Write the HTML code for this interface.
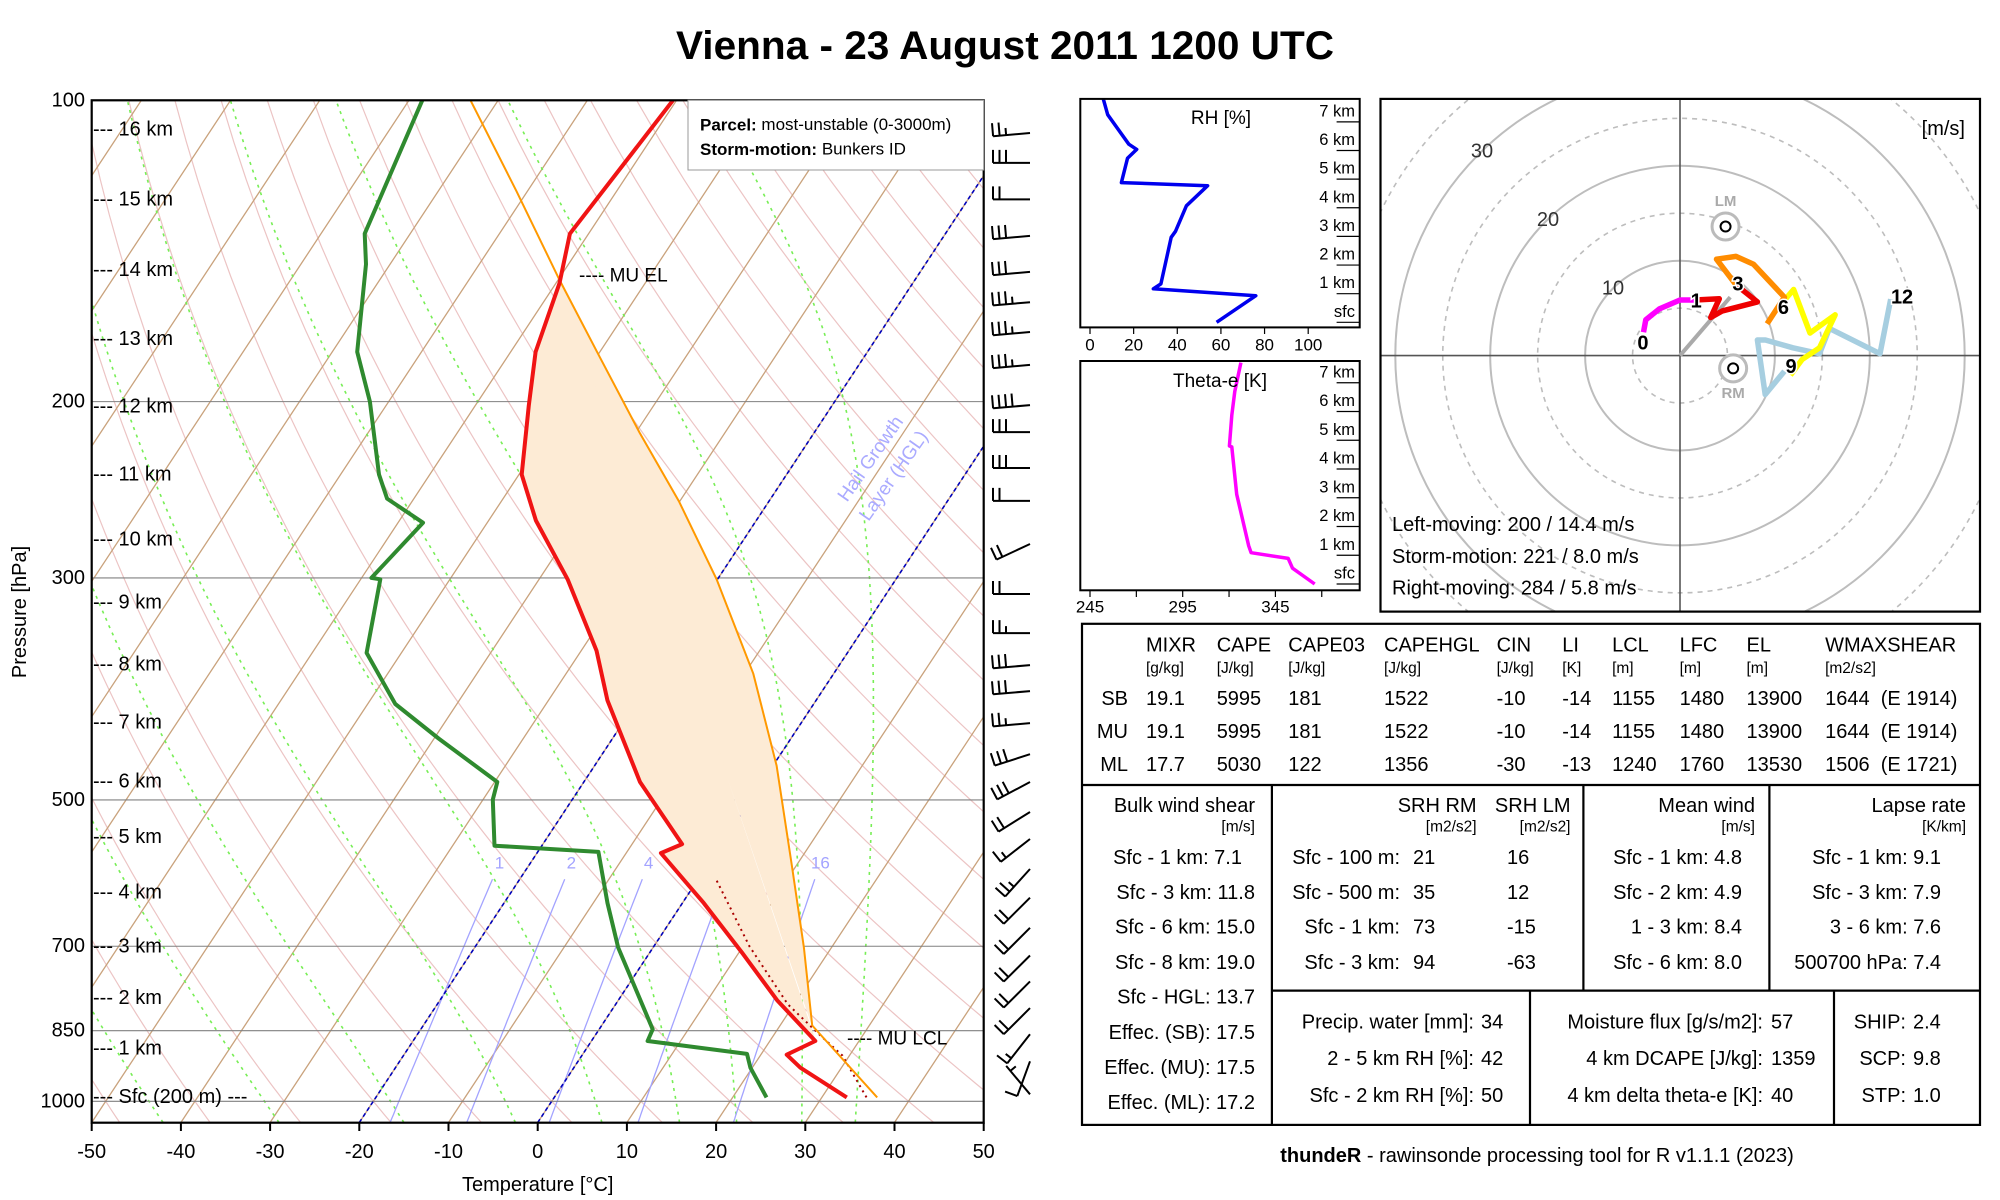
<!DOCTYPE html>
<html><head><meta charset="utf-8"><title>Vienna sounding</title>
<style>
body{margin:0;background:#fff;}
svg{display:block;font-family:"Liberation Sans",Arial,sans-serif;}
.t20{font-size:20px;fill:#000;}
.t17{font-size:17px;fill:#000;}
.t16{font-size:16px;fill:#000;}
</style></head>
<body>
<svg id="c" width="2000" height="1200" viewBox="0 0 2000 1200" xmlns="http://www.w3.org/2000/svg">
<defs>
<clipPath id="skclip"><rect x="91.7" y="100.3" width="892" height="1022.4"/></clipPath>
<clipPath id="hclip"><rect x="1380.5" y="98.9" width="599.5" height="512.7"/></clipPath>
<clipPath id="rhclip"><rect x="1080.3" y="98.9" width="279.4" height="228.5"/></clipPath>
<clipPath id="thclip"><rect x="1080.3" y="361" width="279.4" height="229.3"/></clipPath>
</defs>
<rect x="0" y="0" width="2000" height="1200" fill="#fff"/>
<text x="1005" y="59" text-anchor="middle" font-size="40" font-weight="bold" textLength="658" lengthAdjust="spacingAndGlyphs">Vienna - 23 August 2011 1200 UTC</text>

<g id="skbg" clip-path="url(#skclip)"></g>
<g id="skdata" clip-path="url(#skclip)"></g>
<rect x="91.7" y="100.3" width="892" height="1022.4" fill="none" stroke="#000" stroke-width="2.2"/>
<g id="skaxes"></g>

<g class="t20" dominant-baseline="central">
<text x="93" y="129.3" dominant-baseline="central">--- 16 km</text>
<text x="93" y="199.7" dominant-baseline="central">--- 15 km</text>
<text x="93" y="270.2" dominant-baseline="central">--- 14 km</text>
<text x="93" y="339" dominant-baseline="central">--- 13 km</text>
<text x="93" y="406.4" dominant-baseline="central">--- 12 km</text>
<text x="93" y="474.5" dominant-baseline="central">--- 11 km</text>
<text x="93" y="539.5" dominant-baseline="central">--- 10 km</text>
<text x="93" y="602.3" dominant-baseline="central">--- 9 km</text>
<text x="93" y="664.3" dominant-baseline="central">--- 8 km</text>
<text x="93" y="722.4" dominant-baseline="central">--- 7 km</text>
<text x="93" y="781.4" dominant-baseline="central">--- 6 km</text>
<text x="93" y="837.2" dominant-baseline="central">--- 5 km</text>
<text x="93" y="892.5" dominant-baseline="central">--- 4 km</text>
<text x="93" y="946.5" dominant-baseline="central">--- 3 km</text>
<text x="93" y="998.2" dominant-baseline="central">--- 2 km</text>
<text x="93" y="1048.4" dominant-baseline="central">--- 1 km</text>
<text x="93" y="1097" dominant-baseline="central">--- Sfc (200 m) ---</text>
</g>

<g>
<rect x="688" y="100.3" width="295.7" height="69.7" fill="#fff" stroke="#999" stroke-width="1"/>
<text x="700" y="124.7" font-size="17" dominant-baseline="central"><tspan font-weight="bold">Parcel:</tspan> most-unstable (0-3000m)</text>
<text x="700" y="149.2" font-size="17" dominant-baseline="central"><tspan font-weight="bold">Storm-motion:</tspan> Bunkers ID</text>
</g>
<text x="579" y="276" font-size="19" dominant-baseline="central">---- MU EL</text>
<text x="847" y="1039" font-size="19" dominant-baseline="central">---- MU LCL</text>
<g fill="#aaaaff" font-size="19">
<text x="871" y="459" text-anchor="middle" dominant-baseline="central" transform="rotate(-55 871 459)">Hail Growth</text>
<text x="894" y="476" text-anchor="middle" dominant-baseline="central" transform="rotate(-55 894 476)">Layer (HGL)</text>
</g>
<text x="537.7" y="1185" text-anchor="middle" dominant-baseline="central" class="t20">Temperature [°C]</text>
<text x="20" y="612" text-anchor="middle" dominant-baseline="central" class="t20" transform="rotate(-90 20 612)">Pressure [hPa]</text>

<g id="barbs"></g>

<g id="rh"></g>
<rect x="1080.3" y="98.9" width="279.4" height="228.5" fill="none" stroke="#000" stroke-width="2"/>
<text x="1221" y="118.6" text-anchor="middle" dominant-baseline="central" font-size="19">RH [%]</text>
<g id="th"></g>
<rect x="1080.3" y="361" width="279.4" height="229.3" fill="none" stroke="#000" stroke-width="2"/>
<text x="1220" y="381.6" text-anchor="middle" dominant-baseline="central" font-size="19">Theta-e [K]</text>

<g id="hodo" clip-path="url(#hclip)"></g>
<rect x="1380.5" y="98.9" width="599.5" height="512.7" fill="none" stroke="#000" stroke-width="2.2"/>
<g class="t20">
<text x="1482" y="151.4" text-anchor="middle" dominant-baseline="central" fill="#333">30</text>
<text x="1548" y="220" text-anchor="middle" dominant-baseline="central" fill="#333">20</text>
<text x="1613" y="288.7" text-anchor="middle" dominant-baseline="central" fill="#333">10</text>
<text x="1965" y="129" text-anchor="end" dominant-baseline="central">[m/s]</text>
<text x="1392" y="525" dominant-baseline="central">Left-moving: 200 / 14.4 m/s</text>
<text x="1392" y="557" dominant-baseline="central">Storm-motion: 221 / 8.0 m/s</text>
<text x="1392" y="588.5" dominant-baseline="central">Right-moving: 284 / 5.8 m/s</text>
</g>

<g fill="none" stroke="#000" stroke-width="2.2">
<rect x="1082" y="623.8" width="898" height="501.1"/>
<line x1="1082" y1="785" x2="1980" y2="785"/>
<line x1="1271.9" y1="785" x2="1271.9" y2="1124.9"/>
<line x1="1583.4" y1="785" x2="1583.4" y2="990.6"/>
<line x1="1769.4" y1="785" x2="1769.4" y2="990.6"/>
<line x1="1271.9" y1="990.6" x2="1980" y2="990.6"/>
<line x1="1530" y1="990.6" x2="1530" y2="1124.9"/>
<line x1="1834" y1="990.6" x2="1834" y2="1124.9"/>
</g>
<g class="t20" dominant-baseline="central">
<text x="1146" y="645.4" dominant-baseline="central">MIXR</text>
<text x="1216.7" y="645.4" dominant-baseline="central">CAPE</text>
<text x="1288.3" y="645.4" dominant-baseline="central">CAPE03</text>
<text x="1384" y="645.4" dominant-baseline="central">CAPEHGL</text>
<text x="1496.6" y="645.4" dominant-baseline="central">CIN</text>
<text x="1562.3" y="645.4" dominant-baseline="central">LI</text>
<text x="1612.1" y="645.4" dominant-baseline="central">LCL</text>
<text x="1679.6" y="645.4" dominant-baseline="central">LFC</text>
<text x="1746.5" y="645.4" dominant-baseline="central">EL</text>
<text x="1825.1" y="645.4" dominant-baseline="central">WMAXSHEAR</text>
<text x="1146" y="668.5" font-size="15.5" dominant-baseline="central">[g/kg]</text>
<text x="1216.7" y="668.5" font-size="15.5" dominant-baseline="central">[J/kg]</text>
<text x="1288.3" y="668.5" font-size="15.5" dominant-baseline="central">[J/kg]</text>
<text x="1384" y="668.5" font-size="15.5" dominant-baseline="central">[J/kg]</text>
<text x="1496.6" y="668.5" font-size="15.5" dominant-baseline="central">[J/kg]</text>
<text x="1562.3" y="668.5" font-size="15.5" dominant-baseline="central">[K]</text>
<text x="1612.1" y="668.5" font-size="15.5" dominant-baseline="central">[m]</text>
<text x="1679.6" y="668.5" font-size="15.5" dominant-baseline="central">[m]</text>
<text x="1746.5" y="668.5" font-size="15.5" dominant-baseline="central">[m]</text>
<text x="1825.1" y="668.5" font-size="15.5" dominant-baseline="central">[m2/s2]</text>
</g>
<g class="t20">
<g>
<text x="1128" y="699" text-anchor="end" dominant-baseline="central">SB</text>
<text x="1146" y="699" dominant-baseline="central">19.1</text><text x="1216.7" y="699" dominant-baseline="central">5995</text><text x="1288.3" y="699" dominant-baseline="central">181</text><text x="1384" y="699" dominant-baseline="central">1522</text><text x="1496.6" y="699" dominant-baseline="central">-10</text><text x="1562.3" y="699" dominant-baseline="central">-14</text><text x="1612.1" y="699" dominant-baseline="central">1155</text><text x="1679.6" y="699" dominant-baseline="central">1480</text><text x="1746.5" y="699" dominant-baseline="central">13900</text><text x="1825.1" y="699" dominant-baseline="central" xml:space="preserve">1644  (E 1914)</text>
</g>
<g>
<text x="1128" y="732" text-anchor="end" dominant-baseline="central">MU</text>
<text x="1146" y="732" dominant-baseline="central">19.1</text><text x="1216.7" y="732" dominant-baseline="central">5995</text><text x="1288.3" y="732" dominant-baseline="central">181</text><text x="1384" y="732" dominant-baseline="central">1522</text><text x="1496.6" y="732" dominant-baseline="central">-10</text><text x="1562.3" y="732" dominant-baseline="central">-14</text><text x="1612.1" y="732" dominant-baseline="central">1155</text><text x="1679.6" y="732" dominant-baseline="central">1480</text><text x="1746.5" y="732" dominant-baseline="central">13900</text><text x="1825.1" y="732" dominant-baseline="central" xml:space="preserve">1644  (E 1914)</text>
</g>
<g>
<text x="1128" y="765" text-anchor="end" dominant-baseline="central">ML</text>
<text x="1146" y="765" dominant-baseline="central">17.7</text><text x="1216.7" y="765" dominant-baseline="central">5030</text><text x="1288.3" y="765" dominant-baseline="central">122</text><text x="1384" y="765" dominant-baseline="central">1356</text><text x="1496.6" y="765" dominant-baseline="central">-30</text><text x="1562.3" y="765" dominant-baseline="central">-13</text><text x="1612.1" y="765" dominant-baseline="central">1240</text><text x="1679.6" y="765" dominant-baseline="central">1760</text><text x="1746.5" y="765" dominant-baseline="central">13530</text><text x="1825.1" y="765" dominant-baseline="central" xml:space="preserve">1506  (E 1721)</text>
</g>
</g>
<g class="t20" text-anchor="end">
<text x="1255" y="806" dominant-baseline="central">Bulk wind shear</text>
<text x="1255" y="827" font-size="15.5" dominant-baseline="central">[m/s]</text>
<text x="1242" y="858" dominant-baseline="central">Sfc - 1 km: 7.1</text>
<text x="1255" y="893" dominant-baseline="central">Sfc - 3 km: 11.8</text>
<text x="1255" y="927.5" dominant-baseline="central">Sfc - 6 km: 15.0</text>
<text x="1255" y="963" dominant-baseline="central">Sfc - 8 km: 19.0</text>
<text x="1255" y="997.5" dominant-baseline="central">Sfc - HGL: 13.7</text>
<text x="1255" y="1033" dominant-baseline="central">Effec. (SB): 17.5</text>
<text x="1255" y="1068" dominant-baseline="central">Effec. (MU): 17.5</text>
<text x="1255" y="1103" dominant-baseline="central">Effec. (ML): 17.2</text>
</g>
<g class="t20">
<text x="1476.6" y="806" text-anchor="end" dominant-baseline="central">SRH RM</text>
<text x="1570.5" y="806" text-anchor="end" dominant-baseline="central">SRH LM</text>
<text x="1476.6" y="827" text-anchor="end" font-size="15.5" dominant-baseline="central">[m2/s2]</text>
<text x="1570.5" y="827" text-anchor="end" font-size="15.5" dominant-baseline="central">[m2/s2]</text>
<text x="1400" y="858" text-anchor="end" dominant-baseline="central">Sfc - 100 m:</text><text x="1413" y="858" dominant-baseline="central">21</text><text x="1507" y="858" dominant-baseline="central">16</text>
<text x="1400" y="893" text-anchor="end" dominant-baseline="central">Sfc - 500 m:</text><text x="1413" y="893" dominant-baseline="central">35</text><text x="1507" y="893" dominant-baseline="central">12</text>
<text x="1400" y="927.5" text-anchor="end" dominant-baseline="central">Sfc - 1 km:</text><text x="1413" y="927.5" dominant-baseline="central">73</text><text x="1507" y="927.5" dominant-baseline="central">-15</text>
<text x="1400" y="963" text-anchor="end" dominant-baseline="central">Sfc - 3 km:</text><text x="1413" y="963" dominant-baseline="central">94</text><text x="1507" y="963" dominant-baseline="central">-63</text>
</g>
<g class="t20" text-anchor="end">
<text x="1755" y="806" dominant-baseline="central">Mean wind</text>
<text x="1755" y="827" font-size="15.5" dominant-baseline="central">[m/s]</text>
<text x="1742" y="858" dominant-baseline="central">Sfc - 1 km: 4.8</text>
<text x="1742" y="893" dominant-baseline="central">Sfc - 2 km: 4.9</text>
<text x="1742" y="927.5" dominant-baseline="central">1 - 3 km: 8.4</text>
<text x="1742" y="963" dominant-baseline="central">Sfc - 6 km: 8.0</text>
</g>
<g class="t20" text-anchor="end">
<text x="1966" y="806" dominant-baseline="central">Lapse rate</text>
<text x="1966" y="827" font-size="15.5" dominant-baseline="central">[K/km]</text>
<text x="1941" y="858" dominant-baseline="central">Sfc - 1 km: 9.1</text>
<text x="1941" y="893" dominant-baseline="central">Sfc - 3 km: 7.9</text>
<text x="1941" y="927.5" dominant-baseline="central">3 - 6 km: 7.6</text>
<text x="1941" y="963" dominant-baseline="central">500700 hPa: 7.4</text>
</g>
<g class="t20">
<text x="1474" y="1022.5" text-anchor="end" dominant-baseline="central">Precip. water [mm]:</text><text x="1481" y="1022.5" dominant-baseline="central">34</text>
<text x="1474" y="1059" text-anchor="end" dominant-baseline="central">2 - 5 km RH [%]:</text><text x="1481" y="1059" dominant-baseline="central">42</text>
<text x="1474" y="1096" text-anchor="end" dominant-baseline="central">Sfc - 2 km RH [%]:</text><text x="1481" y="1096" dominant-baseline="central">50</text>
</g>
<g class="t20">
<text x="1763" y="1022.5" text-anchor="end" dominant-baseline="central">Moisture flux [g/s/m2]:</text><text x="1771" y="1022.5" dominant-baseline="central">57</text>
<text x="1763" y="1059" text-anchor="end" dominant-baseline="central">4 km DCAPE [J/kg]:</text><text x="1771" y="1059" dominant-baseline="central">1359</text>
<text x="1763" y="1096" text-anchor="end" dominant-baseline="central">4 km delta theta-e [K]:</text><text x="1771" y="1096" dominant-baseline="central">40</text>
</g>
<g class="t20">
<text x="1906" y="1022.5" text-anchor="end" dominant-baseline="central">SHIP:</text><text x="1913" y="1022.5" dominant-baseline="central">2.4</text>
<text x="1906" y="1059" text-anchor="end" dominant-baseline="central">SCP:</text><text x="1913" y="1059" dominant-baseline="central">9.8</text>
<text x="1906" y="1096" text-anchor="end" dominant-baseline="central">STP:</text><text x="1913" y="1096" dominant-baseline="central">1.0</text>
</g>
<text x="1537" y="1162" text-anchor="middle" class="t20"><tspan font-weight="bold">thundeR</tspan> - rawinsonde processing tool for R v1.1.1 (2023)</text>
</svg>

<script>
const pEnv=[100,135.9,152.3,178.4,201.8,236.5,262.9,301,354.6,397.5,479.8,553.4,565,633.8,710.9,792.5,870.5,898.4,925.7,991.1];
const tEnv=[-60.4,-62.1,-59.6,-57.2,-54.0,-49.7,-44.7,-36.8,-28.3,-23.4,-13.7,-4.4,-6.1,2.4,10.4,17.8,25.1,22.9,25.4,32.8];
const pDew=[100,135.9,145.8,178.4,200,236.5,250,264.2,300,301,356.5,401,434.1,479.8,499.6,555.5,563.4,633.8,702.2,847.3,870.5,896.8,925.7,991.1];
const tDew=[-88.5,-85.1,-82.7,-77.2,-72.1,-65.7,-63.0,-57.2,-58.9,-57.8,-53.9,-46.9,-39.5,-29.7,-28.9,-25.3,-13.2,-8.4,-3.9,6.0,6.3,18.4,19.8,23.8];
const pPar=[991,840,702,580,462,374,301,251.5,214.7,180,151,123.3,100];
const tPar=[36.2,23.6,16.9,9.4,0.4,-9.0,-20.1,-30.1,-39.6,-49.8,-59.9,-71.2,-83.1];
const pVir=[991,900,862,800,700,600];
const tVir=[35.0,29.2,25.5,19.3,10.7,2.0];
const tempTicks=[-50,-40,-30,-20,-10,0,10,20,30,40,50];
const presTicks=[100,200,300,500,700,850,1000];
const moistStarts=[-42,-29,-15,-2.5,7.2,15.9,22.3,29.6,35.6];
const mixRatios=[1,2,4,8,16];
const barbP=[107.8,115.5,125.6,136.6,148.4,159.1,170.4,183.8,201.6,214.5,233,251.3,277.5,311.3,340.6,366.6,389.2,419,450,479.8,514,547,586,626,671,715,759,807,857,912,984];
const barbDir=[265,270,270,265,265,265,265,265,265,270,270,270,245,270,270,265,265,265,252,242,238,232,222,225,225,225,225,225,218,200,320];
const barbSpd=[25,30,20,30,30,35,35,35,40,30,30,20,20,20,25,30,30,25,30,30,20,15,25,20,20,20,20,20,15,10,5];
const rhVals=[58,76,29,32.5,37.2,39.2,44.2,53.9,14.4,17.2,21.4,17.8,8.1,6.1];
const rhHgt=[0,0.93,1.17,1.34,2.97,3.18,4.07,4.77,4.88,5.73,6.04,6.22,7.25,7.8];
const rhTicks=[0,20,40,60,80,100];
const thVals=[366.2,354.2,351.9,331.9,330.6,324.1,321.5,320.2,321.5,323.1,326.4];
const thHgt=[0,0.55,0.89,1.09,1.33,3.12,4.77,4.80,5.87,6.70,7.70];
const thTicks=[245,270,295,320,345,370];
const thLabels=[245,295,345];
const kmLevels=[0,1,2,3,4,5,6,7];
const hodoU0=[-3.85,-3.6,-2.17,0,1.6];
const hodoV0=[2.46,3.77,4.92,5.86,5.86];
const hodoU1=[1.6,4.14,3.24,4.47,8.16,6.93,5.9];
const hodoV1=[5.86,5.98,4.02,4.71,5.66,6.64,7.46];
const hodoU3=[5.9,3.85,5.9,7.75,11.0,9.18];
const hodoV3=[7.46,10.16,10.45,9.63,6.15,3.36];
const hodoU6=[10.8,11.97,13.7,16.35,14.7,12.87,11.64];
const hodoV6=[5.6,6.97,2.38,4.3,0.82,-0.41,-2.05];
const hodoU9=[11.0,8.98,8.16,9.0,11.9,14.7,15.74,21.07,22.2];
const hodoV9=[-1.64,-4.1,1.64,1.64,0.82,0.2,2.87,0.2,5.94];
const hodoLabels=['0','1','3','6','9','12'];
const hodoLabU=[-3.9,1.7,6.1,10.9,11.7,23.4];
const hodoLabV=[1.3,5.7,7.5,5.0,-1.2,6.1];
const meanU=5.29, meanV=6.15;
const lmU=4.8, lmV=13.6, rmU=5.6, rmV=-1.35;
const ringRadii=[5,10,15,20,25,30,35];

const NS='http://www.w3.org/2000/svg';
function mk(tag,attrs,parent){const e=document.createElementNS(NS,tag);for(const k in attrs)e.setAttribute(k,attrs[k]);if(parent)parent.appendChild(e);return e;}
const X0=91.7,XS=8.92;
function yP(p){return 100.3+1001*(Math.log10(p)-2);}
function xT(T,p){return X0+(T+50+74*Math.log10(1050/p))*XS;}
function ptsStr(arr){return arr.map(a=>a[0].toFixed(1)+','+a[1].toFixed(1)).join(' ');}

const bg=document.getElementById('skbg');
for(let th=123.15;th<=523.15;th+=10){
  const pts=[];for(let p=1050;p>=100;p-=10){pts.push([xT(th*Math.pow(p/1000,0.286)-273.15,p),yP(p)]);}
  const l=mk('polyline',{points:ptsStr(pts),fill:'none',stroke:'#ecc4c4','stroke-width':1.2},bg);
  
  
}
for(let T=-170;T<=50;T+=10){
  const l=mk('line',{x1:xT(T,1050),y1:yP(1050),x2:xT(T,100),y2:yP(100),stroke:'#c9a27c','stroke-width':1.3},bg);
  
  
}
function dTdp(p,T){const es=6.112*Math.exp(17.67*(T-273.15)/(T-29.65));const rs=0.622*es/(p-es);return (287*T+2.5e6*rs)/(p*(1005+2.5e6*2.5e6*rs*0.622/(287*T*T)));}
moistStarts.forEach(t0=>{
  let T=t0+273.15;const pts=[];
  for(let p=1050;p>=100;p-=5){pts.push([xT(T-273.15,p),yP(p)]);const h=-5;const k1=dTdp(p,T);const k2=dTdp(p+h/2,T+k1*h/2);T+=k2*h;}
  const l=mk('polyline',{points:ptsStr(pts),fill:'none',stroke:'#77ee55','stroke-width':1.6,'stroke-dasharray':'3,5'},bg);
  
  
});
function tdFor(w,p){const es=w*p/(622+w);const a=Math.log(es/6.112);return 243.5*a/(17.67-a);}
mixRatios.forEach(w=>{
  const pts=[];for(let p=1050;p>=600;p-=10)pts.push([xT(tdFor(w,p),p),yP(p)]);
  const l=mk('polyline',{points:ptsStr(pts),fill:'none',stroke:'#a3a3ff','stroke-width':1.3},bg);
  
  
  const t=mk('text',{x:xT(tdFor(w,578),578),y:863,'text-anchor':'middle','dominant-baseline':'central','font-size':17,fill:'#a3a3ff'},bg);
  t.textContent=String(w);
  
  
});
presTicks.forEach(p=>{
  const l=mk('line',{x1:X0,y1:yP(p),x2:X0+892,y2:yP(p),stroke:'#808080','stroke-width':1.1},bg);
  
  
});
[0,-20].forEach(T=>{
  const l=mk('line',{x1:xT(T,1050),y1:yP(1050),x2:xT(T,100),y2:yP(100),stroke:'#0000bb','stroke-width':1.6,'stroke-dasharray':'4,3'},bg);
  
  
});

const sd=document.getElementById('skdata');
const fillPts=[];
pPar.forEach((p,i)=>{if(p<=840&&p>=151)fillPts.push([xT(tPar[i],p),yP(p)]);});
for(let i=pEnv.length-1;i>=0;i--){if(pEnv[i]<=871&&pEnv[i]>=152)fillPts.push([xT(tEnv[i],pEnv[i]),yP(pEnv[i])]);}
const cf=mk('polygon',{points:ptsStr(fillPts),fill:'#fdebd5',stroke:'#fdebd5','stroke-width':1},sd);


const vir=mk('polyline',{points:ptsStr(pVir.map((p,i)=>[xT(tVir[i],p),yP(p)])),fill:'none',stroke:'#aa0000','stroke-width':2,'stroke-dasharray':'2,4'},sd);


const par=mk('polyline',{points:ptsStr(pPar.map((p,i)=>[xT(tPar[i],p),yP(p)])),fill:'none',stroke:'#ff9900','stroke-width':2},sd);


const dew=mk('polyline',{points:ptsStr(pDew.map((p,i)=>[xT(tDew[i],p),yP(p)])),fill:'none',stroke:'#2f8a2f','stroke-width':4,'stroke-linejoin':'round'},sd);


const env=mk('polyline',{points:ptsStr(pEnv.map((p,i)=>[xT(tEnv[i],p),yP(p)])),fill:'none',stroke:'#f01414','stroke-width':4,'stroke-linejoin':'round'},sd);



const ax=document.getElementById('skaxes');
tempTicks.forEach(T=>{
  const x=X0+(T+50)*XS;
  const l=mk('line',{x1:x,y1:1122.7,x2:x,y2:1131,stroke:'#000','stroke-width':2},ax);
  
  
  const t=mk('text',{x:x,y:1152,'text-anchor':'middle','dominant-baseline':'central','font-size':20},ax);
  t.textContent=String(T);
  
  
});
presTicks.forEach(p=>{
  const t=mk('text',{x:85,y:yP(p),'text-anchor':'end','dominant-baseline':'central','font-size':20},ax);
  t.textContent=String(p);
  
  
});

const bb=document.getElementById('barbs');
barbP.forEach((p,i)=>{
  const y0=yP(p),x0=1030,r=barbDir[i]*Math.PI/180;
  const sx=Math.sin(r),sy=-Math.cos(r),L=37;
  const ex=x0+sx*L,ey=y0+sy*L;
  let d='M'+x0.toFixed(1)+' '+y0.toFixed(1)+' L'+ex.toFixed(1)+' '+ey.toFixed(1);
  const px=-sy,py=sx;
  let s=barbSpd[i],k=0;
  const full=Math.floor(s/10),half=(s%10)>=5?1:0;
  for(let j=0;j<full;j++){const bx=ex-sx*k*6.5,by=ey-sy*k*6.5;d+=' M'+bx.toFixed(1)+' '+by.toFixed(1)+' l'+(px*13).toFixed(1)+' '+(py*13).toFixed(1);k++;}
  if(half){if(k===0)k=1;const bx=ex-sx*k*6.5,by=ey-sy*k*6.5;d+=' M'+bx.toFixed(1)+' '+by.toFixed(1)+' l'+(px*7).toFixed(1)+' '+(py*7).toFixed(1);}
  const b=mk('path',{d:d,fill:'none',stroke:'#000','stroke-width':2},bb);
  
  
});

const rh=document.getElementById('rh');
const rhX=v=>1090+v*2.182, rhY=h=>322.3-h*28.63;
kmLevels.forEach(h=>{
  const l=mk('line',{x1:1336.6,y1:rhY(h),x2:1359.7,y2:rhY(h),stroke:'#000','stroke-width':1.2},rh);
  
  
  const t=mk('text',{x:1355,y:rhY(h)-10.5,'text-anchor':'end','dominant-baseline':'central','font-size':16.5},rh);
  t.textContent=h===0?'sfc':h+' km';
  
  
});
rhTicks.forEach(v=>{
  const l=mk('line',{x1:rhX(v),y1:327.4,x2:rhX(v),y2:334,stroke:'#000','stroke-width':1.2},rh);
  
  
  const t=mk('text',{x:rhX(v),y:345,'text-anchor':'middle','dominant-baseline':'central','font-size':17},rh);
  t.textContent=String(v);
  
  
});
const rhl=mk('polyline',{points:ptsStr(rhVals.map((v,i)=>[rhX(v),rhY(rhHgt[i])])),fill:'none',stroke:'#0000ee','stroke-width':3.5,'clip-path':'url(#rhclip)','stroke-linejoin':'round'},rh);



const th=document.getElementById('th');
const thX=v=>1090+(v-245)*1.854, thY=h=>584-h*28.75;
kmLevels.forEach(h=>{
  const l=mk('line',{x1:1336.6,y1:thY(h),x2:1359.7,y2:thY(h),stroke:'#000','stroke-width':1.2},th);
  
  
  const t=mk('text',{x:1355,y:thY(h)-10.5,'text-anchor':'end','dominant-baseline':'central','font-size':16.5},th);
  t.textContent=h===0?'sfc':h+' km';
  
  
});
thTicks.forEach(v=>{
  const l=mk('line',{x1:thX(v),y1:590.3,x2:thX(v),y2:597,stroke:'#000','stroke-width':1.2},th);
  
  
});
thLabels.forEach(v=>{
  const t=mk('text',{x:thX(v),y:607,'text-anchor':'middle','dominant-baseline':'central','font-size':17},th);
  t.textContent=String(v);
  
  
});
const thl=mk('polyline',{points:ptsStr(thVals.map((v,i)=>[thX(v),thY(thHgt[i])])),fill:'none',stroke:'#ff00ff','stroke-width':3.5,'clip-path':'url(#thclip)','stroke-linejoin':'round'},th);



const hd=document.getElementById('hodo');
const HX=u=>1680+u*9.49, HY=v=>355.6-v*9.49;
ringRadii.forEach(r=>{
  const solid=(r%10===0);
  const c=mk('circle',{cx:1680,cy:355.6,r:r*9.49,fill:'none',stroke:'#bdbdbd','stroke-width':solid?2:1.6,'stroke-dasharray':solid?'none':'5,5'},hd);
  
  
});
const hax1=mk('line',{x1:1380,y1:355.6,x2:1980,y2:355.6,stroke:'#555','stroke-width':1.6},hd);


const hax2=mk('line',{x1:1680,y1:98,x2:1680,y2:612,stroke:'#555','stroke-width':1.6},hd);


const mw=mk('line',{x1:HX(0),y1:HY(0),x2:HX(meanU),y2:HY(meanV),stroke:'#aaaaaa','stroke-width':4},hd);


function hodoSeg(U,V,col,name){
  const l=mk('polyline',{points:ptsStr(U.map((u,i)=>[HX(u),HY(V[i])])),fill:'none',stroke:col,'stroke-width':5.5,'stroke-linejoin':'round'},hd);
  
  
}
hodoSeg(hodoU9,hodoV9,'#a6cee0','hodo-9-12km');
hodoSeg(hodoU6,hodoV6,'#ffff00','hodo-6-9km');
hodoSeg(hodoU3,hodoV3,'#ff8c00','hodo-3-6km');
hodoSeg(hodoU1,hodoV1,'#ee0000','hodo-1-3km');
hodoSeg(hodoU0,hodoV0,'#ff00ff','hodo-0-1km');
hodoLabels.forEach((s,i)=>{
  const t=mk('text',{x:HX(hodoLabU[i]),y:HY(hodoLabV[i]),'text-anchor':'middle','dominant-baseline':'central','font-size':20,'font-weight':'bold',fill:'#000',stroke:'#fff','stroke-width':3,'paint-order':'stroke'},hd);
  t.textContent=s;
  
  
});
[[lmU,lmV,'LM',-1],[rmU,rmV,'RM',1]].forEach(m=>{
  const c1=mk('circle',{cx:HX(m[0]),cy:HY(m[1]),r:13.5,fill:'#fff',stroke:'#bbb','stroke-width':3},hd);
  
  
  const c2=mk('circle',{cx:HX(m[0]),cy:HY(m[1]),r:5,fill:'none',stroke:'#000','stroke-width':2},hd);
  
  
  const t=mk('text',{x:HX(m[0]),y:HY(m[1])+m[3]*25,'text-anchor':'middle','dominant-baseline':'central','font-size':15,'font-weight':'bold',fill:'#aaa'},hd);
  t.textContent=m[2];
  
  
});
</script>
</body></html>
